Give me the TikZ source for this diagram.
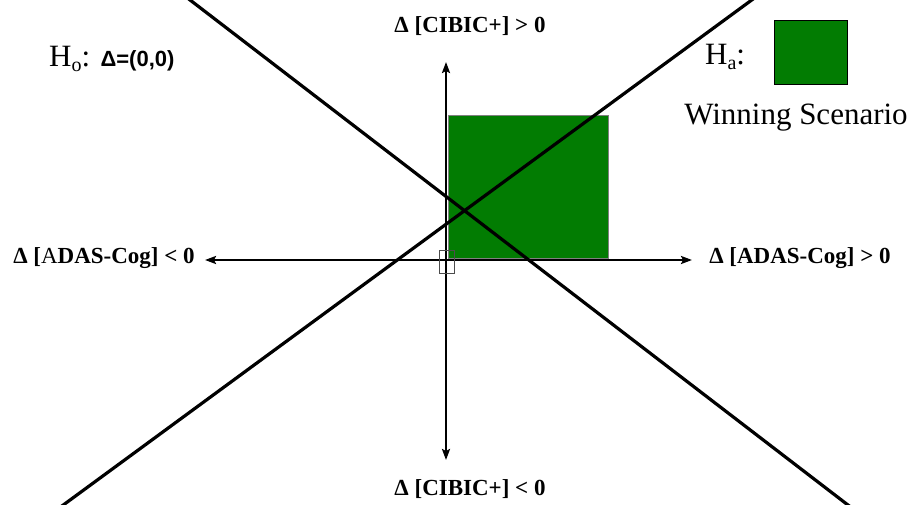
\documentclass[tikz,border=0pt]{standalone}
\usepackage{fontspec}
\setmainfont{Liberation Serif}
\setsansfont{Liberation Sans}
\usetikzlibrary{arrows.meta}
\definecolor{wingreen}{RGB}{2,124,2}
\newcommand{\hsub}[1]{\raisebox{-5pt}{\fontsize{20}{20}\selectfont #1}}
\begin{document}
\begin{tikzpicture}[x=1pt,y=-1pt,
  axis/.style={line width=2.2pt,{Stealth[length=11pt,width=8pt,inset=2pt]}-{Stealth[length=11pt,width=8pt,inset=2pt]}},
  cross/.style={line width=3.2pt},
  axlab/.style={anchor=base,inner sep=0pt,font=\fontsize{23}{26}\selectfont\bfseries},
  hyp/.style={anchor=base west,inner sep=0pt,font=\fontsize{31}{34}\selectfont}]
\useasboundingbox (0,0) rectangle (918,505);
\clip (0,0) rectangle (918,505);

\draw[fill=wingreen,draw=gray,line width=0.8pt] (448,115) rectangle (608,258);

\draw[cross] (164,-20) -- (874,525);
\draw[cross] (36,525) -- (779,-20);

\coordinate (xl) at (205,260);
\coordinate (xr) at (692,260);
\coordinate (yt) at (446,62);
\coordinate (yb) at (446,460);
\draw[axis] (xl) -- (xr);
\draw[axis] (yb) -- (yt);
\draw[gray!60!black,line width=0.8pt] (439,250) rectangle (454,273);

\node[axlab] (cibicp) at (470,33) {Δ [CIBIC+] > 0};
\node[axlab] (cibicm) at (470,495) {Δ [CIBIC+] < 0};
\node[axlab] (adasm) at (104,263) {Δ [\mdseries A\bfseries DAS-Cog] < 0};
\node[axlab] (adasp) at (800,263) {Δ [ADAS-Cog] > 0};

\node[hyp] (hnull) at (49,67) {H\hsub{o}: {\sffamily\bfseries\fontsize{22}{24}\selectfont Δ=(0,0)}};
\node[hyp] (halt) at (705,65) {H\hsub{a}:};
\node[draw=black,line width=0.9pt,fill=wingreen,minimum width=73pt,minimum height=64pt,inner sep=0pt,anchor=north west] (key) at (774,20) {};
\node[hyp,anchor=base] (win) at (796,125) {Winning Scenario};
\end{tikzpicture}
\end{document}
